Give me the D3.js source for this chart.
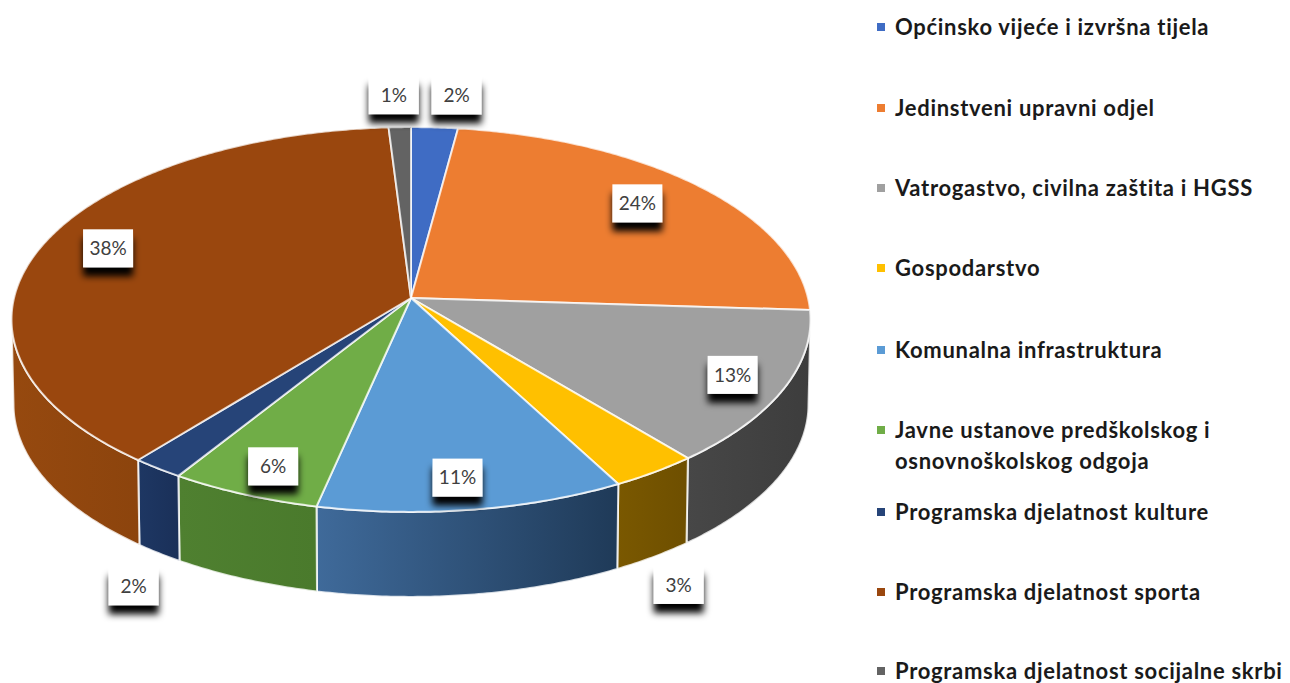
<!DOCTYPE html>
<html>
<head>
<meta charset="utf-8">
<script src="https://cdn.jsdelivr.net/npm/d3@7"></script>
<style>
  body { margin: 0; background: #fff; }
  svg { display: block; }
</style>
</head>
<body>
<div id="chart"></div>
<script>
// data (labels show the rounded value)
const categories = [
  ["Općinsko vijeće i izvršna tijela"],
  ["Jedinstveni upravni odjel"],
  ["Vatrogastvo, civilna zaštita i HGSS"],
  ["Gospodarstvo"],
  ["Komunalna infrastruktura"],
  ["Javne ustanove predškolskog i", "osnovnoškolskog odgoja"],
  ["Programska djelatnost kulture"],
  ["Programska djelatnost sporta"],
  ["Programska djelatnost socijalne skrbi"]
];
const values = [2.1, 23.9, 13.0, 3.2, 11.2, 5.5, 1.9, 38.2, 1.0];

// colours
const topColors = ["#3f6cc4", "#ed7d31", "#a0a0a0", "#ffc000", "#5b9bd5", "#70ad47", "#264478", "#9a470e", "#636363"];
const wallLeft = ["#2f5597", "#b85f20", "#474747", "#7a5800", "#3f6a9a", "#4f8030", "#1e3763", "#96490f", "#474747"];
const wallRight = ["#2f5597", "#b85f20", "#3d3d3d", "#6e4f00", "#1f3a58", "#4a7a2c", "#1a3059", "#8c440d", "#474747"];

// label offsets from the slice's point on the rim
const labelDx = [22, -60, -51, 24, -15, 29, -24, 63, -6];
const labelDy = [-32, 18, -14, 113, -32, -28, 118, 6, -32];

// legend rows
const legendY = [27, 108, 188, 268, 350, 430, 512, 592, 671];

const width = 1290, height = 683;

const svg = d3.select("#chart").append("svg")
  .attr("width", width)
  .attr("height", height);

const defs = svg.append("defs");

const shadow = defs.append("filter")
  .attr("id", "labelShadow")
  .attr("x", "-30%").attr("y", "-30%")
  .attr("width", "160%").attr("height", "190%");
shadow.append("feDropShadow")
  .attr("dx", 0).attr("dy", 9)
  .attr("stdDeviation", 3.5)
  .attr("flood-color", "#000");

// pie tilted in perspective: apex is not the middle of the ellipse
const cx = 411, cy = 298, R = 397, H = 190, k = 0.1117, depth = 85;

function project(angle, r, drop) {
  const u = r * Math.sin(angle), v = -r * Math.cos(angle);
  const d = 1 - k * v;
  const shrink = drop ? 0.995 : 1;
  return [cx + shrink * R * u / d, cy + H * v / d + (drop || 0)];
}

function rim(a0, a1, drop) {
  const n = Math.max(2, Math.ceil((a1 - a0) / 0.01));
  return d3.range(n + 1).map(i => project(a0 + (a1 - a0) * i / n, 1, drop));
}

const pie = d3.pie().sort(null);
const slices = pie(values);
const line = d3.line();

// the side wall only shows between the two vertical tangents
const wallFrom = Math.PI - Math.asin(Math.sqrt(1 - k * k));
const wallTo = 2 * Math.PI - wallFrom;

const walls = slices
  .map((s, i) => ({ i, a0: Math.max(s.startAngle, wallFrom), a1: Math.min(s.endAngle, wallTo) }))
  .filter(d => d.a1 > d.a0);

walls.forEach(d => {
  const g = defs.append("linearGradient").attr("id", "wall" + d.i);
  g.append("stop").attr("offset", "0%").attr("stop-color", wallLeft[d.i]);
  g.append("stop").attr("offset", "100%").attr("stop-color", wallRight[d.i]);
});

svg.append("g").selectAll("path")
  .data(walls)
  .enter()
  .append("path")
  .attr("d", d => line(rim(d.a0, d.a1, 0).concat(rim(d.a0, d.a1, depth).reverse())) + "Z")
  .attr("fill", d => `url(#wall${d.i})`)
  .attr("stroke", "#fff")
  .attr("stroke-opacity", 0.8)
  .attr("stroke-width", 2);

// top face
svg.append("g").selectAll("path")
  .data(slices)
  .enter()
  .append("path")
  .attr("d", d => line([[cx, cy]].concat(rim(d.startAngle, d.endAngle, 0))) + "Z")
  .attr("fill", (d, i) => topColors[i])
  .attr("stroke", "#fff")
  .attr("stroke-opacity", 0.75)
  .attr("stroke-width", 2)
  .attr("stroke-linejoin", "round");

// data labels
const labels = svg.append("g").selectAll("g")
  .data(slices)
  .enter()
  .append("g")
  .attr("transform", (d, i) => {
    const p = project((d.startAngle + d.endAngle) / 2, 1, 0);
    return `translate(${p[0] + labelDx[i]},${p[1] + labelDy[i]})`;
  });

labels.append("rect")
  .attr("x", -25).attr("y", -19)
  .attr("width", 50).attr("height", 38)
  .attr("fill", "#fff")
  .attr("filter", "url(#labelShadow)");

labels.append("text")
  .attr("text-anchor", "middle")
  .attr("dy", "0.35em")
  .attr("font-family", "Lato, sans-serif")
  .attr("font-size", 19)
  .attr("fill", "#404040")
  .text(d => Math.round(d.data) + "%");

// legend
const legend = svg.append("g").selectAll("g")
  .data(categories)
  .enter()
  .append("g")
  .attr("transform", (d, i) => `translate(0,${legendY[i]})`);

legend.append("rect")
  .attr("x", 877).attr("y", -4)
  .attr("width", 8).attr("height", 8)
  .attr("fill", (d, i) => topColors[i]);

legend.append("text")
  .attr("font-family", "Lato, sans-serif")
  .attr("font-weight", 700)
  .attr("font-size", 22)
  .attr("letter-spacing", 0.7)
  .attr("fill", "#1a1a1a")
  .selectAll("tspan")
  .data(d => d)
  .enter()
  .append("tspan")
  .attr("x", 895)
  .attr("y", (d, i) => 7.5 + i * 31)
  .text(d => d);
</script>
</body>
</html>
